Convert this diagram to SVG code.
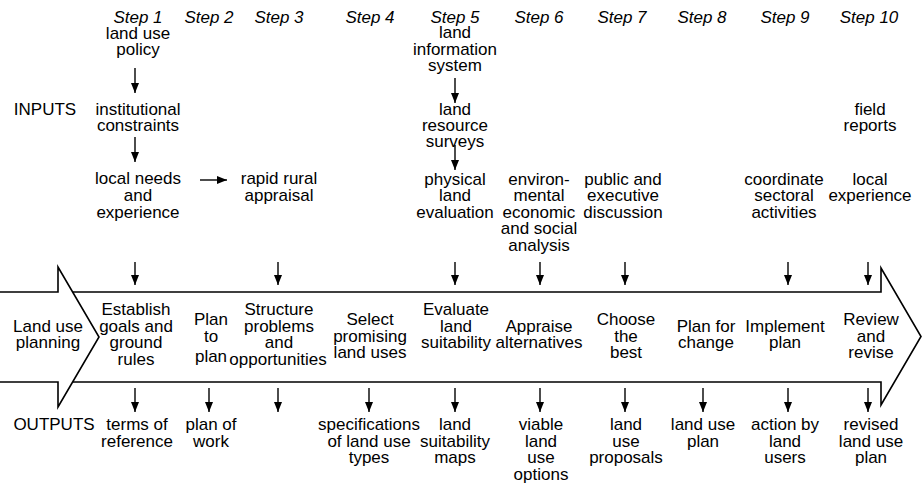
<svg xmlns="http://www.w3.org/2000/svg" width="922" height="487" viewBox="0 0 922 487">
<style>
text{font-family:"Liberation Sans",Arial,Helvetica,sans-serif;font-size:17px;fill:#000;text-anchor:middle}
.step{font-style:italic}
.band{fill:none;stroke:#000;stroke-width:1.6;stroke-linejoin:miter}
.arr{stroke:#000;stroke-width:1.4;fill:none}
</style>
<defs>
<marker id="ah" markerUnits="userSpaceOnUse" markerWidth="10" markerHeight="10" viewBox="0 0 10 10" refX="10" refY="5" orient="auto">
<path d="M0,1 L10,5 L0,9 Z" fill="#000"/>
</marker>
</defs>
<rect width="922" height="487" fill="#fff"/>

<g id="band">
<polyline class="band" points="0,292 58,292 58,267 99,337 58,407 58,382 0,382"/>
<polyline class="band" points="72.6,292 881,292 881,268 921,336.5 881,405 881,382 73,382"/>
</g>

<g id="steps">
<text class="step" x="138" y="23">Step 1</text>
<text class="step" x="209" y="23">Step 2</text>
<text class="step" x="279" y="23">Step 3</text>
<text class="step" x="370" y="23">Step 4</text>
<text class="step" x="455" y="23">Step 5</text>
<text class="step" x="539" y="23">Step 6</text>
<text class="step" x="622" y="23">Step 7</text>
<text class="step" x="702" y="23">Step 8</text>
<text class="step" x="785" y="23">Step 9</text>
<text class="step" x="869" y="23">Step 10</text>
</g>

<g id="inputs-label"><text x="45" y="115">INPUTS</text></g>
<g id="outputs-label"><text x="54" y="430">OUTPUTS</text></g>

<g id="in-policy"><text x="138" y="39">land use</text><text x="138" y="55">policy</text></g>
<g id="in-institutional"><text x="138" y="115">institutional</text><text x="138" y="131">constraints</text></g>
<g id="in-local-needs"><text x="138" y="184">local needs</text><text x="138" y="201">and</text><text x="138" y="218">experience</text></g>
<g id="in-rapid"><text x="279" y="184">rapid rural</text><text x="279" y="201">appraisal</text></g>
<g id="in-lis"><text x="455" y="38">land</text><text x="455" y="55">information</text><text x="455" y="71">system</text></g>
<g id="in-surveys"><text x="455" y="115">land</text><text x="455" y="131">resource</text><text x="455" y="147">surveys</text></g>
<g id="in-physical"><text x="455" y="185">physical</text><text x="455" y="201">land</text><text x="455" y="218">evaluation</text></g>
<g id="in-environ"><text x="539" y="185">environ-</text><text x="539" y="201">mental</text><text x="539" y="218">economic</text><text x="539" y="234">and social</text><text x="539" y="251">analysis</text></g>
<g id="in-public"><text x="623" y="185">public and</text><text x="623" y="201">executive</text><text x="623" y="218">discussion</text></g>
<g id="in-coordinate"><text x="784" y="185">coordinate</text><text x="784" y="201">sectoral</text><text x="784" y="218">activities</text></g>
<g id="in-field"><text x="870" y="115">field</text><text x="870" y="131">reports</text></g>
<g id="in-local-exp"><text x="870" y="185">local</text><text x="870" y="201">experience</text></g>

<g id="n-landuse"><text x="48" y="332">Land use</text><text x="48" y="348">planning</text></g>
<g id="n-establish"><text x="136" y="315">Establish</text><text x="136" y="331.5">goals and</text><text x="136" y="348">ground</text><text x="136" y="364.5">rules</text></g>
<g id="n-plan"><text x="211" y="325">Plan</text><text x="211" y="342">to</text><text x="211" y="362">plan</text></g>
<g id="n-structure"><text x="279" y="315">Structure</text><text x="279" y="331.5">problems</text><text x="279" y="348">and</text><text x="278" y="365">opportunities</text></g>
<g id="n-select"><text x="370" y="325">Select</text><text x="370" y="341.5">promising</text><text x="370" y="358">land uses</text></g>
<g id="n-evaluate"><text x="456" y="315">Evaluate</text><text x="456" y="331.5">land</text><text x="456" y="348">suitability</text></g>
<g id="n-appraise"><text x="539" y="331.5">Appraise</text><text x="539" y="348">alternatives</text></g>
<g id="n-choose"><text x="626" y="325">Choose</text><text x="626" y="341.5">the</text><text x="626" y="358">best</text></g>
<g id="n-planchange"><text x="706" y="332">Plan for</text><text x="706" y="348">change</text></g>
<g id="n-implement"><text x="785" y="332">Implement</text><text x="785" y="348">plan</text></g>
<g id="n-review"><text x="871" y="325">Review</text><text x="871" y="341.5">and</text><text x="871" y="358">revise</text></g>

<g id="out-terms"><text x="137" y="430">terms of</text><text x="137" y="447">reference</text></g>
<g id="out-work"><text x="211" y="430">plan of</text><text x="211" y="447">work</text></g>
<g id="out-spec"><text x="369" y="430">specifications</text><text x="369" y="447">of land use</text><text x="369" y="463">types</text></g>
<g id="out-maps"><text x="455" y="430">land</text><text x="455" y="447">suitability</text><text x="455" y="463">maps</text></g>
<g id="out-viable"><text x="541" y="430">viable</text><text x="541" y="447">land</text><text x="541" y="463">use</text><text x="541" y="480">options</text></g>
<g id="out-proposals"><text x="626" y="430">land</text><text x="626" y="447">use</text><text x="626" y="463">proposals</text></g>
<g id="out-plan"><text x="703" y="430">land use</text><text x="703" y="447">plan</text></g>
<g id="out-action"><text x="785" y="430">action by</text><text x="785" y="447">land</text><text x="785" y="463">users</text></g>
<g id="out-revised"><text x="871" y="430">revised</text><text x="871" y="447">land use</text><text x="871" y="463">plan</text></g>

<g id="connectors">
<line class="arr" x1="135" y1="68" x2="135" y2="93" marker-end="url(#ah)"/>
<line class="arr" x1="135" y1="137" x2="135" y2="162" marker-end="url(#ah)"/>
<line class="arr" x1="200" y1="180" x2="227" y2="180" marker-end="url(#ah)"/>
<line class="arr" x1="455" y1="78" x2="455" y2="103" marker-end="url(#ah)"/>
<line class="arr" x1="455" y1="145" x2="455" y2="170" marker-end="url(#ah)"/>
<line class="arr" x1="135" y1="262" x2="135" y2="285" marker-end="url(#ah)"/>
<line class="arr" x1="278" y1="262" x2="278" y2="285" marker-end="url(#ah)"/>
<line class="arr" x1="455" y1="262" x2="455" y2="285" marker-end="url(#ah)"/>
<line class="arr" x1="540" y1="262" x2="540" y2="285" marker-end="url(#ah)"/>
<line class="arr" x1="625" y1="262" x2="625" y2="285" marker-end="url(#ah)"/>
<line class="arr" x1="788" y1="262" x2="788" y2="285" marker-end="url(#ah)"/>
<line class="arr" x1="868" y1="262" x2="868" y2="285" marker-end="url(#ah)"/>
<line class="arr" x1="135" y1="388" x2="135" y2="412" marker-end="url(#ah)"/>
<line class="arr" x1="209" y1="388" x2="209" y2="412" marker-end="url(#ah)"/>
<line class="arr" x1="278" y1="388" x2="278" y2="412" marker-end="url(#ah)"/>
<line class="arr" x1="369" y1="388" x2="369" y2="412" marker-end="url(#ah)"/>
<line class="arr" x1="455" y1="388" x2="455" y2="412" marker-end="url(#ah)"/>
<line class="arr" x1="540" y1="388" x2="540" y2="412" marker-end="url(#ah)"/>
<line class="arr" x1="625" y1="388" x2="625" y2="412" marker-end="url(#ah)"/>
<line class="arr" x1="703" y1="388" x2="703" y2="412" marker-end="url(#ah)"/>
<line class="arr" x1="788" y1="388" x2="788" y2="412" marker-end="url(#ah)"/>
<line class="arr" x1="868" y1="388" x2="868" y2="412" marker-end="url(#ah)"/>
</g>
</svg>
